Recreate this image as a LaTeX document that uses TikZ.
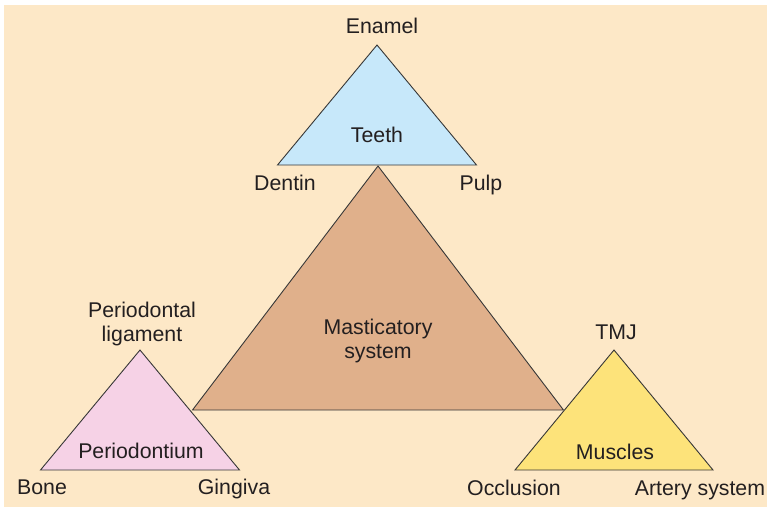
\documentclass[tikz,border=0pt]{standalone}
\usepackage{fontspec}
\setmainfont{Liberation Sans}
\definecolor{bgcream}{RGB}{253,232,199}
\definecolor{teethblue}{RGB}{199,232,250}
\definecolor{mastbrown}{RGB}{224,176,139}
\definecolor{periopink}{RGB}{246,210,230}
\definecolor{muscyellow}{RGB}{253,227,122}
\definecolor{edgegray}{RGB}{55,55,55}
\definecolor{txtgray}{RGB}{35,31,32}

\begin{document}
\begin{tikzpicture}[x=1pt,y=-1pt,
    tri/.style={draw=edgegray,line width=0.9pt,line join=miter},
    lbl/.style={font=\fontsize{21.3}{24}\selectfont,text=txtgray,anchor=base,align=center,inner sep=0pt}]
  \useasboundingbox (0,0) rectangle (767,509);
  \fill[bgcream] (4,5) rectangle (767,507);
  % apex x, apex y, half width, height, colour
  \foreach \x/\y/\w/\h/\c in {378/166/185.5/244/mastbrown, 377/45/99.5/120/teethblue,
      140/350/99.5/120/periopink, 614/350/99/120/muscyellow}{
    \draw[tri,fill=\c] (\x,\y) -- ++(-\w,\h) -- ++(2*\w,0) -- cycle;}
  % labels
  \node[lbl] (enamel) at (382,33) {Enamel};
  \node[lbl] (teeth) at (377,142) {Teeth};
  \node[lbl] (dentin) at (285,190) {Dentin};
  \node[lbl] (pulp) at (481,190) {Pulp};
  \node[lbl] (mast) at (378,358) {Masticatory\\system};
  \node[lbl] (pdl) at (142,341) {Periodontal\\ligament};
  \node[lbl] (perio) at (141,458) {Periodontium};
  \node[lbl] (bone) at (42,494) {Bone};
  \node[lbl] (ging) at (234,494) {Gingiva};
  \node[lbl] (tmj) at (616,339) {TMJ};
  \node[lbl] (musc) at (615,459) {Muscles};
  \node[lbl] (occl) at (514,495) {Occlusion};
  \node[lbl] (artery) at (700,495) {Artery system};
\end{tikzpicture}
\end{document}
